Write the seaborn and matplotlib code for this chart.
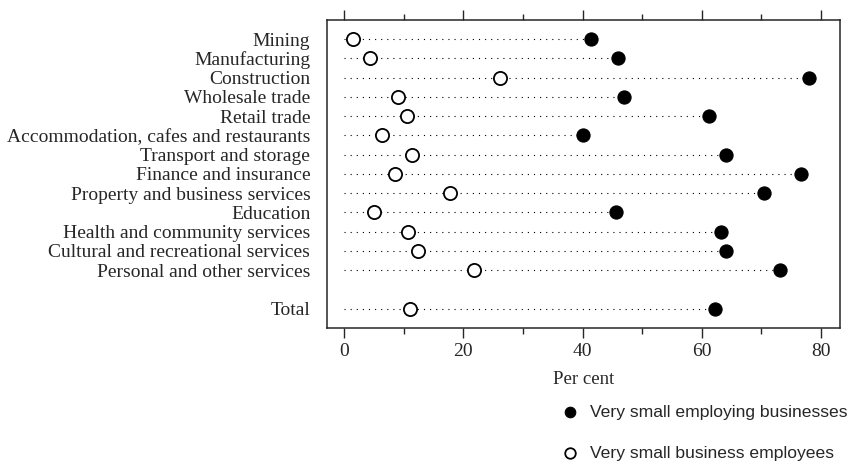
import pandas as pd
import matplotlib.pyplot as plt
import seaborn as sns
from matplotlib.ticker import MultipleLocator

industries = ['Mining', 'Manufacturing', 'Construction', 'Wholesale trade', 'Retail trade',
              'Accommodation, cafes and restaurants', 'Transport and storage',
              'Finance and insurance', 'Property and business services', 'Education',
              'Health and community services', 'Cultural and recreational services',
              'Personal and other services', 'Total']
businesses = [41.5, 46.0, 78.1, 47.0, 61.2, 40.0, 64.1, 76.7, 70.4, 45.7, 63.2, 64.1, 73.1, 62.3]
employees = [1.4, 4.3, 26.2, 9.1, 10.5, 6.3, 11.3, 8.6, 17.7, 5.0, 10.7, 12.3, 21.7, 11.0]

sns.set_style('ticks')
plt.rcParams['font.family'] = ['Liberation Serif', 'DejaVu Serif']

# gap row before Total
rows = list(range(1, 14)) + [15]
df = pd.DataFrame({'industry': industries, 'row': rows,
                   'businesses': businesses, 'employees': employees})

fig = plt.figure(figsize=(8.5, 4.62), dpi=100)
ax = fig.add_axes([0.3847, 0.290, 0.6033, 0.667])

ax.hlines(df['row'], 0, df['businesses'], colors='black', linestyles=(0, (1, 4.5)), linewidth=0.8, zorder=1)

sns.scatterplot(data=df, x='businesses', y='row', ax=ax, color='black', s=90,
                edgecolor='black', linewidth=0.8, zorder=3, label='Very small employing businesses')
sns.scatterplot(data=df, x='employees', y='row', ax=ax, color='white', s=90,
                edgecolor='black', linewidth=1.3, zorder=3, label='Very small business employees')

ax.set_xlim(-2.9, 83.2)
ax.set_ylim(16, 0)
ax.set_yticks(rows)
ax.set_yticklabels(industries, fontsize=14)
ax.tick_params(axis='y', length=0, pad=12)
ax.xaxis.set_major_locator(MultipleLocator(20))
ax.xaxis.set_minor_locator(MultipleLocator(10))
ax.tick_params(axis='x', which='major', length=7, width=1, labelsize=14, top=True, direction='out')
ax.tick_params(axis='x', which='minor', length=4, width=1, top=True, direction='out')
ax.set_xlabel('Per cent', fontsize=13.5, labelpad=8)
ax.set_ylabel('')
for sp in ax.spines.values():
    sp.set_visible(True)
    sp.set_linewidth(1.1)

ax.get_legend().remove()
handles, labels = ax.get_legend_handles_labels()
fig.legend(handles, labels, loc='upper left', bbox_to_anchor=(0.648, 0.139),
           frameon=False, prop={'family': 'Liberation Sans', 'size': 12.6},
           labelspacing=1.45, handlelength=1.4, handletextpad=0.45, borderaxespad=0,
           markerscale=0.8)

fig.savefig('out.png', dpi=100)
